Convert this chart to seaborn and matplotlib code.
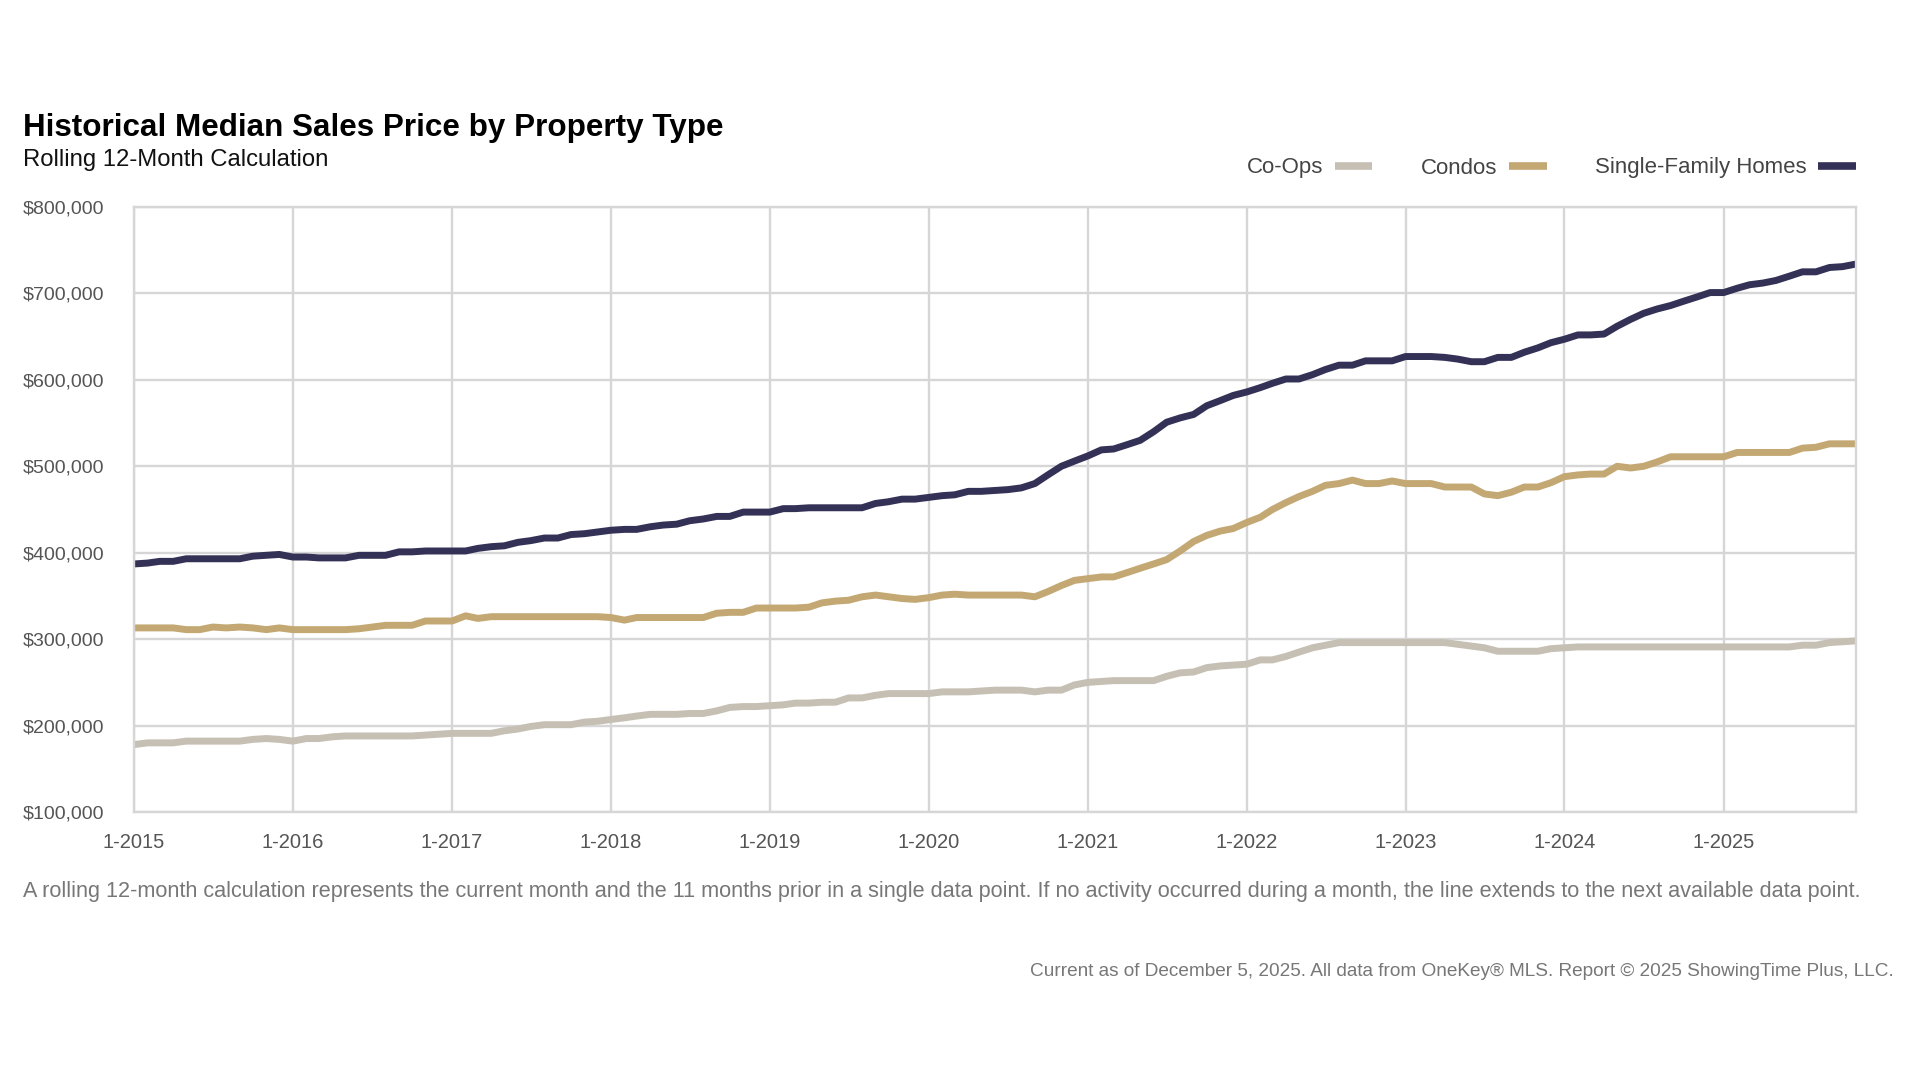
import seaborn as sns
import matplotlib.pyplot as plt
import matplotlib.dates as mdates
from matplotlib.ticker import FuncFormatter
import pandas as pd

# Monthly rolling 12-month median sales price (in $1,000), 1-2015 .. 11-2025
months = pd.date_range("2015-01-01", "2025-11-01", freq="MS")

single_family = [
    387, 388, 390, 390, 393, 393, 393, 393, 393, 396, 397, 398,
    395, 395, 394, 394, 394, 397, 397, 397, 401, 401, 402, 402,
    402, 402, 405, 407, 408, 412, 414, 417, 417, 421, 422, 424,
    426, 427, 427, 430, 432, 433, 437, 439, 442, 442, 447, 447,
    447, 451, 451, 452, 452, 452, 452, 452, 457, 459, 462, 462,
    464, 466, 467, 471, 471, 472, 473, 475, 480, 490, 500, 506,
    512, 519, 520, 525, 530, 540, 551, 556, 560, 570, 576, 582,
    586, 591, 596, 601, 601, 606, 612, 617, 617, 622, 622, 622,
    627, 627, 627, 626, 624, 621, 621, 626, 626, 632, 637, 643,
    647, 652, 652, 653, 662, 670, 677, 682, 686, 691, 696, 701,
    701, 706, 710, 712, 715, 720, 725, 725, 730, 731, 734,
]
condos = [
    313, 313, 313, 313, 311, 311, 314, 313, 314, 313, 311, 313,
    311, 311, 311, 311, 311, 312, 314, 316, 316, 316, 321, 321,
    321, 327, 324, 326, 326, 326, 326, 326, 326, 326, 326, 326,
    325, 322, 325, 325, 325, 325, 325, 325, 330, 331, 331, 336,
    336, 336, 336, 337, 342, 344, 345, 349, 351, 349, 347, 346,
    348, 351, 352, 351, 351, 351, 351, 351, 349, 355, 362, 368,
    370, 372, 372, 377, 382, 387, 392, 402, 413, 420, 425, 428,
    435, 441, 450, 458, 465, 471, 478, 480, 484, 480, 480, 483,
    480, 480, 480, 476, 476, 476, 468, 466, 470, 476, 476, 481,
    488, 490, 491, 491, 500, 498, 500, 505, 511, 511, 511, 511,
    511, 516, 516, 516, 516, 516, 521, 522, 526, 526, 526,
]
co_ops = [
    178, 180, 180, 180, 182, 182, 182, 182, 182, 184, 185, 184,
    182, 185, 185, 187, 188, 188, 188, 188, 188, 188, 189, 190,
    191, 191, 191, 191, 194, 196, 199, 201, 201, 201, 204, 205,
    207, 209, 211, 213, 213, 213, 214, 214, 217, 221, 222, 222,
    223, 224, 226, 226, 227, 227, 232, 232, 235, 237, 237, 237,
    237, 239, 239, 239, 240, 241, 241, 241, 239, 241, 241, 247,
    250, 251, 252, 252, 252, 252, 257, 261, 262, 267, 269, 270,
    271, 276, 276, 280, 285, 290, 293, 296, 296, 296, 296, 296,
    296, 296, 296, 296, 294, 292, 290, 286, 286, 286, 286, 289,
    290, 291, 291, 291, 291, 291, 291, 291, 291, 291, 291, 291,
    291, 291, 291, 291, 291, 291, 293, 293, 296, 297, 298,
]

types = ["Co-Ops", "Condos", "Single-Family Homes"]
colors = {"Co-Ops": "#c6bfb3", "Condos": "#c4a873", "Single-Family Homes": "#343157"}

df = pd.concat([
    pd.DataFrame({"Month": months, "Price": [v * 1000 for v in co_ops], "Type": "Co-Ops"}),
    pd.DataFrame({"Month": months, "Price": [v * 1000 for v in condos], "Type": "Condos"}),
    pd.DataFrame({"Month": months, "Price": [v * 1000 for v in single_family], "Type": "Single-Family Homes"}),
])

sns.set_style("white")
plt.rcParams["font.family"] = ["Liberation Sans", "DejaVu Sans"]

W, H = 1920, 1080
fig = plt.figure(figsize=(W / 100, H / 100), dpi=100)
ax = fig.add_axes([134 / W, 1 - 812 / H, (1856 - 134) / W, (812 - 207) / H])

sns.lineplot(data=df, x="Month", y="Price", hue="Type", hue_order=types,
             palette=colors, linewidth=5, ax=ax)

grid_c = "#d6d6d6"
ax.set_xlim(months[0], months[-1])
ax.set_ylim(100000, 800000)
ax.set_yticks(range(100000, 800001, 100000))
ax.yaxis.set_major_formatter(FuncFormatter(lambda v, p: f"${v:,.0f}"))
ax.xaxis.set_major_locator(mdates.YearLocator(month=1))
ax.xaxis.set_major_formatter(FuncFormatter(lambda v, p: "1-" + mdates.num2date(v).strftime("%Y")))
ax.grid(True, color=grid_c, linewidth=1.7)
ax.set_axisbelow(True)
for s in ax.spines.values():
    s.set_color(grid_c)
    s.set_linewidth(1.7)
ax.tick_params(axis="y", length=9.5, width=1.7, color=grid_c, pad=12, labelsize=14, labelcolor="#555555")
ax.tick_params(axis="x", length=6, width=1.7, color=grid_c, pad=9, labelsize=14.5, labelcolor="#555555")
ax.set_xlabel("")
ax.set_ylabel("")

handles, labels = ax.get_legend_handles_labels()
ax.get_legend().remove()
leg = fig.legend(handles, labels, loc="center right", bbox_to_anchor=(1856 / W, 1 - 168 / H),
                 bbox_transform=fig.transFigure, ncol=3, frameon=False, markerfirst=False,
                 fontsize=16, handlelength=1.7, handletextpad=0.5, columnspacing=2.2,
                 borderpad=0, borderaxespad=0)
for t in leg.get_texts():
    t.set_color("#444444")
for h in leg.legend_handles:
    h.set_linewidth(5.5)
    h.set_solid_capstyle("butt")

title = fig.text(23 / W, 1 - 136 / H, "Historical Median Sales Price by Property Type",
                 fontsize=27, fontweight="bold", color="#000000", va="baseline")
subtitle = fig.text(23 / W, 1 - 166 / H, "Rolling 12-Month Calculation",
                    fontsize=20, color="#111111", va="baseline")
note = fig.text(23 / W, 1 - 897 / H,
                "A rolling 12-month calculation represents the current month and the 11 months prior in a single data point. "
                "If no activity occurred during a month, the line extends to the next available data point.",
                fontsize=15, color="#777777", va="baseline")
credit = fig.text(1894 / W, 1 - 976 / H,
                  "Current as of December 5, 2025. All data from OneKey\u00ae MLS. Report \u00a9 2025 ShowingTime Plus, LLC.",
                  fontsize=14, color="#777777", va="baseline", ha="right")

# scale the free texts so their widths match the reference
fig.canvas.draw()
renderer = fig.canvas.get_renderer()
for t, width in [(title, 699), (subtitle, 305), (note, 1841), (credit, 869)]:
    bb = t.get_window_extent(renderer)
    t.set_fontsize(t.get_fontsize() * width / bb.width)

fig.savefig("out.png", dpi=100, facecolor="white")
